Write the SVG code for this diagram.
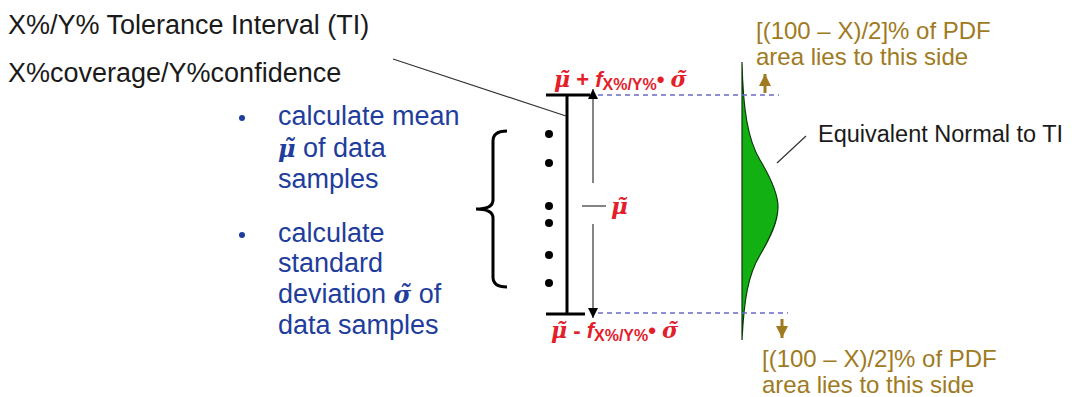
<svg xmlns="http://www.w3.org/2000/svg" width="1072" height="397" viewBox="0 0 1072 397">
<style>
.sans{font-family:"Liberation Sans",Arial,sans-serif}
.title{font-size:27px;fill:#1a1a1a}
.blue{font-size:27px;fill:#1f3d9c}
.brown{font-size:24px;fill:#a07a1e}
.red{fill:#e3202a;font-weight:bold}
.greek{font-family:"DejaVu Serif",serif;font-style:italic;font-weight:bold}
.thick{stroke:#000;stroke-width:3;fill:none}
.thin{stroke:#333;stroke-width:1.2;fill:none}
.dash{stroke:#6a6ac8;stroke-width:1.3;stroke-dasharray:5 4;fill:none}
</style>
<defs>
<marker id="ah" viewBox="0 0 10 10" refX="10" refY="5" markerWidth="10" markerHeight="10" markerUnits="userSpaceOnUse" orient="auto">
<path d="M0,0 L10,5 L0,10 Z" fill="#000"/>
</marker>
<marker id="bh" viewBox="0 0 10 10" refX="10" refY="5" markerWidth="12" markerHeight="13" markerUnits="userSpaceOnUse" orient="auto">
<path d="M0,0 L10,5 L0,10 Z" fill="#a07a1e"/>
</marker>
</defs>
<rect width="1072" height="397" fill="#fff"/>

<g id="title" class="sans title">
<text x="8" y="34">X%/Y% Tolerance Interval (TI)</text>
<text x="8" y="82">X%coverage/Y%confidence</text>
</g>

<g id="bullets" class="sans blue">
<circle cx="242" cy="118" r="3" fill="#1f3d9c"/>
<text x="278" y="125">calculate mean</text>
<text x="278" y="157"><tspan class="greek" font-size="24">μ̃</tspan>  of data</text>
<text x="278" y="188">samples</text>
<circle cx="242" cy="235" r="3" fill="#1f3d9c"/>
<text x="278" y="242">calculate</text>
<text x="278" y="272">standard</text>
<text x="278" y="303">deviation <tspan class="greek" font-size="24">σ̃</tspan> of</text>
<text x="278" y="334">data samples</text>
</g>

<g id="samples">
<path class="thick" d="M507,131 Q493,131 493,141 L493,200 Q493,209 476,209 Q493,209 493,218 L493,277 Q493,287 507,287"/>
<circle cx="549" cy="134" r="4"/>
<circle cx="549" cy="163" r="4"/>
<circle cx="549" cy="206" r="4"/>
<circle cx="549" cy="223" r="4"/>
<circle cx="549" cy="255" r="4"/>
<circle cx="549" cy="283" r="4"/>
</g>

<g id="ti-bar">
<line class="thick" x1="567" y1="95" x2="567" y2="314"/>
<line class="thick" x1="546" y1="95" x2="590" y2="95"/>
<line class="thick" x1="546" y1="314" x2="585" y2="314"/>
</g>

<g id="labels" class="sans red">
<text x="554" y="87" font-size="22"><tspan class="greek">μ̃</tspan> + <tspan font-style="italic">f</tspan><tspan font-size="16" dy="3">X%/Y%</tspan><tspan dy="-3">• </tspan><tspan class="greek">σ̃</tspan></text>
<text x="551" y="338" font-size="22"><tspan class="greek">μ̃</tspan> - <tspan font-style="italic">f</tspan><tspan font-size="16" dy="3">X%/Y%</tspan><tspan dy="-3">• </tspan><tspan class="greek">σ̃</tspan></text>
<text x="611" y="214" font-size="23" class="greek">μ̃</text>
</g>

<g id="normal-curve">
<path d="M742,62 C743,110 748,140 760,160 C772,180 778,195 778,207 C778,222 770,238 760,255 C748,275 744,300 742,340 Z" fill="#12b012" stroke="#0a3a0a" stroke-width="1.2"/>
</g>

<g id="normal-label" class="sans">
<text x="818" y="142" font-size="23.5" fill="#1a1a1a">Equivalent Normal  to TI</text>
</g>

<g id="upper-note" class="sans brown">
<text x="756" y="39">[(100 – X)/2]% of PDF</text>
<text x="756" y="65">area lies to this side</text>
</g>

<g id="lower-note" class="sans brown">
<text x="762" y="367">[(100 – X)/2]% of PDF</text>
<text x="762" y="393">area lies to this side</text>
</g>

<g id="connectors">
<line class="thin" x1="393" y1="59" x2="566" y2="116"/>
<line class="thin" x1="777" y1="163" x2="806" y2="136"/>
<line stroke="#333" stroke-width="1.2" x1="593" y1="183" x2="593" y2="89" marker-end="url(#ah)"/>
<line stroke="#333" stroke-width="1.2" x1="593" y1="224" x2="593" y2="318" marker-end="url(#ah)"/>
<line class="thin" x1="582" y1="206" x2="606" y2="206"/>
<line class="dash" x1="598" y1="95" x2="779" y2="95"/>
<line class="dash" x1="598" y1="313" x2="788" y2="313"/>
<line stroke="#a07a1e" stroke-width="3" x1="765" y1="93" x2="765" y2="74" marker-end="url(#bh)"/>
<line stroke="#a07a1e" stroke-width="3" x1="782" y1="319" x2="782" y2="338" marker-end="url(#bh)"/>
</g>
</svg>
